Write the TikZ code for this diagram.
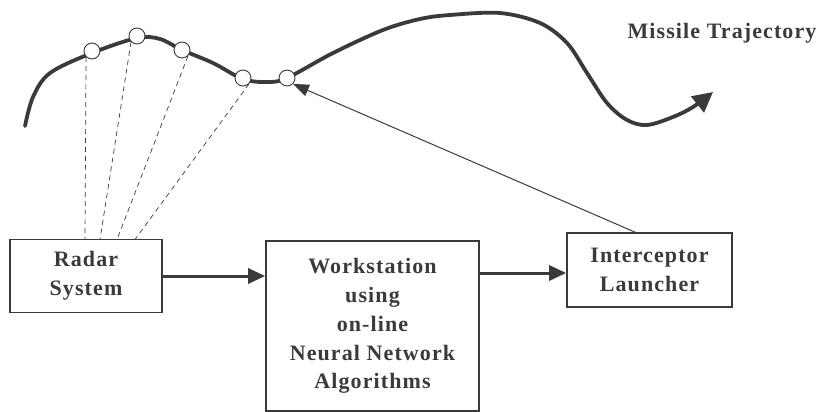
\documentclass[tikz,border=0pt]{standalone}
\usepackage{fontspec}
\setmainfont{Liberation Serif}[LetterSpace=5]
\usetikzlibrary{arrows.meta}
\definecolor{ink}{HTML}{3A3A3A}
\tikzset{
  blk/.style={draw=ink, line width=1.6pt, align=center, inner sep=0pt, text=ink,
    font=\bfseries\fontsize{22}{28.8}\selectfont},
  traj/.style={draw=ink, line width=3.8pt, line cap=round},
  obs/.style={circle, draw=ink, fill=white, line width=0.9pt, minimum size=16pt, inner sep=0pt},
  ray/.style={draw=ink, line width=0.7pt, dash pattern=on 5pt off 4pt},
  flow/.style={draw=ink, line width=3pt, -{Triangle[length=17pt,width=15pt]}},
  aim/.style={draw=ink, line width=1pt, -{Triangle[length=16pt,width=12pt]}},
}
\begin{document}
\begin{tikzpicture}[x=1pt,y=-1pt]
\useasboundingbox (0,0) rectangle (825,412);
% boxes
\node[blk, minimum width=152pt, minimum height=73pt] (radar) at (86,276) {Radar\\System};
\node[blk, minimum width=213pt, minimum height=170pt] (ws) at (372.5,326) {Workstation\\using\\on-line\\Neural Network\\Algorithms};
\node[blk, minimum width=165pt, minimum height=74pt] (icl) at (649.5,270) {Interceptor\\Launcher};
% trajectory
\draw[traj, -{Triangle[length=20pt,width=20pt]}] plot[smooth, tension=0.55] coordinates {
 (25,126) (33,97) (50,73) (92,53) (137,38) (160,39) (182,50) (213,63) (243,79) (267,82) (287,78)
 (333,53) (383,30) (420,19) (450,15) (500,13) (540,23) (567,43) (587,73) (607,103) (627,120)
 (647,125) (673,117) (693,107) (713,92)};
% observation points
\node[obs] (p1) at (92,51) {};
\node[obs] (p2) at (137,36) {};
\node[obs] (p3) at (182,50) {};
\node[obs] (p4) at (243,78) {};
\node[obs] (p5) at (287,78) {};
% radar rays
\coordinate (r1) at (85,239.5);
\coordinate (r2) at (100,239.5);
\coordinate (r3) at (117,239.5);
\coordinate (r4) at (135,239.5);
\coordinate (launch) at (637,233);
\draw[ray] (p1.south west) -- (r1);
\draw[ray] (p2.south west) -- (r2);
\draw[ray] (p3.south east) -- (r3);
\draw[ray] (p4.south east) -- (r4);
% flow arrows
\draw[flow] (radar.east) -- (ws.west |- radar.east);
\draw[flow] ([yshift=-3pt]ws.east |- icl.west) -- ([yshift=-3pt]icl.west);
\draw[aim] (launch) -- (p5.south east);
% label
\node[text=ink, font=\bfseries\fontsize{22}{26}\selectfont] (lbl) at (722,33) {Missile Trajectory};
\end{tikzpicture}
\end{document}
